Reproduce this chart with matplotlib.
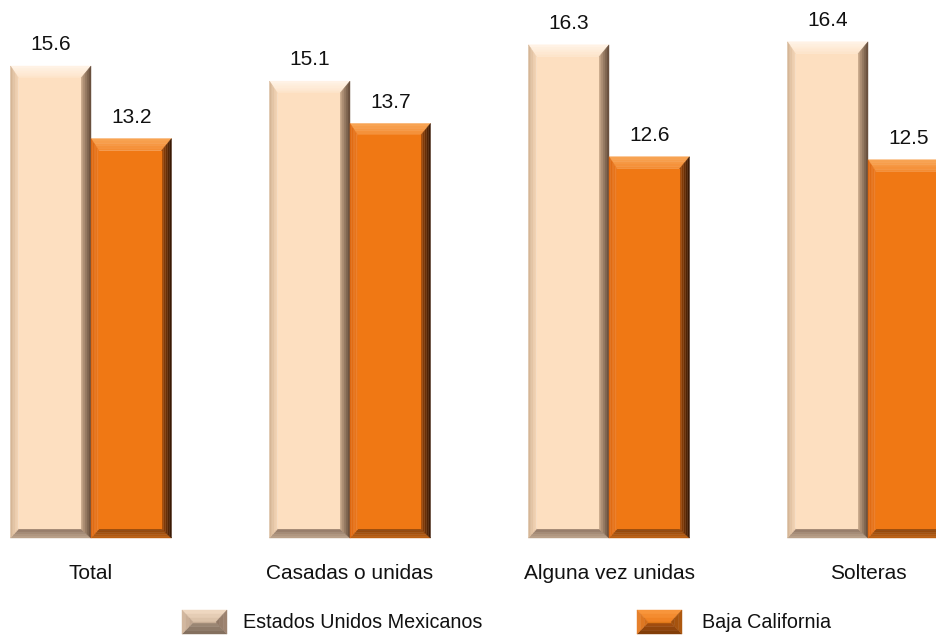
import matplotlib
matplotlib.use("Agg")
import matplotlib.pyplot as plt
from matplotlib.patches import Polygon
import numpy as np

plt.rcParams['font.family'] = ['Liberation Sans', 'DejaVu Sans']

categories = ["Total", "Casadas o unidas", "Alguna vez unidas", "Solteras"]
eum = [15.6, 15.1, 16.3, 16.4]
bc = [13.2, 13.7, 12.6, 12.5]
series_names = ["Estados Unidos Mexicanos", "Baja California"]

# style (colors per facet: outer, inner)
STY = {
    "eum": dict(face="#FDDFC0", top=("#FFF4E8", "#FDE3C8"), left=("#D2B292", "#F6D6B6"),
                right=("#5E4636", "#C9A98A"), bottom=("#BFA58C", "#8C7260")),
    "bc": dict(face="#F07814", top=("#F9A656", "#F38A30"), left=("#DB6610", "#EE7A1E"),
               right=("#2E1404", "#A44A08"), bottom=("#C26212", "#86400A")),
}


def mix(c1, c2, t):
    a = np.array(matplotlib.colors.to_rgb(c1))
    b = np.array(matplotlib.colors.to_rgb(c2))
    return tuple(a + (b - a) * t)


def bevel(ax, x0, y0, w, h, bl, br, bt, bb, sty, transform=None, n=5, zorder=2):
    tr = transform if transform is not None else ax.transData
    for i in range(n):
        t0 = i / n
        t1 = (i + 1) / n
        ox0, ox1 = x0 + bl * t0, x0 + w - br * t0
        oy0, oy1 = y0 + bb * t0, y0 + h - bt * t0
        ix0, ix1 = x0 + bl * t1, x0 + w - br * t1
        iy0, iy1 = y0 + bb * t1, y0 + h - bt * t1
        tm = (i + 0.5) / n
        polys = {
            "top": [(ox0, oy1), (ox1, oy1), (ix1, iy1), (ix0, iy1)],
            "bottom": [(ox0, oy0), (ox1, oy0), (ix1, iy0), (ix0, iy0)],
            "left": [(ox0, oy0), (ix0, iy0), (ix0, iy1), (ox0, oy1)],
            "right": [(ox1, oy0), (ix1, iy0), (ix1, iy1), (ox1, oy1)],
        }
        for side, pts in polys.items():
            c = mix(sty[side][0], sty[side][1], tm)
            ax.add_patch(Polygon(pts, closed=True, facecolor=c, edgecolor=c, lw=0.3,
                                 transform=tr, zorder=zorder, clip_on=False))
    ax.add_patch(Polygon([(x0 + bl, y0 + bb), (x0 + w - br, y0 + bb),
                          (x0 + w - br, y0 + h - bt), (x0 + bl, y0 + h - bt)],
                         closed=True, facecolor=sty["face"], edgecolor=sty["face"], lw=0.3,
                         transform=tr, zorder=zorder, clip_on=False))


W, H = 936, 638
fig = plt.figure(figsize=(W / 100, H / 100), dpi=100)
base_px = 538
ax = fig.add_axes([0, (H - base_px) / H, 1, base_px / H])
px_per_group = 259.0
center0 = 91.0
px_per_unit = 472.0 / 15.6
ax.set_xlim(-center0 / px_per_group, (W - center0) / px_per_group)
ax.set_ylim(0, base_px / px_per_unit)
for s in ax.spines.values():
    s.set_visible(False)
ax.set_yticks([])

bw = 80.5 / px_per_group
dx = 1.0 / px_per_group
dy = 1.0 / px_per_unit
x = np.arange(len(categories))

for i in range(len(categories)):
    for j, (vals, key) in enumerate([(eum, "eum"), (bc, "bc")]):
        xl = x[i] - bw + j * bw
        v = vals[i]
        bevel(ax, xl, 0, bw, v, 8 * dx, 10 * dx, 12 * dy, 9 * dy, STY[key])
        ax.annotate(f"{v:.1f}", (xl + bw / 2, v), xytext=(0, 8.5), textcoords="offset points",
                    ha="center", va="bottom", fontsize=15, color="#111111")

ax.set_xticks(x)
ax.set_xticklabels(categories, fontsize=15, color="#111111")
ax.tick_params(axis="x", length=0, pad=19)

# legend drawn in a pixel-coordinate overlay
lax = fig.add_axes([0, 0, 1, 1], facecolor="none")
lax.set_xlim(0, W)
lax.set_ylim(H, 0)
lax.axis("off")
leg_items = [(182, 243, "eum"), (637, 702, "bc")]
LSTY = {
    "eum": dict(face="#C8AE96", top=("#F2DCC6", "#D8BEA4"), left=("#D6BCA2", "#BCA08A"),
                right=("#A08672", "#8E7664"), bottom=("#7E6A5A", "#A08C78")),
    "bc": dict(face="#E07818", top=("#FA9A40", "#EE7E20"), left=("#EA8430", "#D06A14"),
               right=("#B05A10", "#9C4C0C"), bottom=("#7A3A08", "#A85010")),
}
for (ix, tx, key), name in zip(leg_items, series_names):
    bevel(lax, ix, 634, 45, -24, 11, 11, -12, -11.5, LSTY[key], n=3)
    lax.text(tx, 623, name, fontsize=14.2, va="center", ha="left", color="#111111")

fig.savefig("out.png", dpi=100)
